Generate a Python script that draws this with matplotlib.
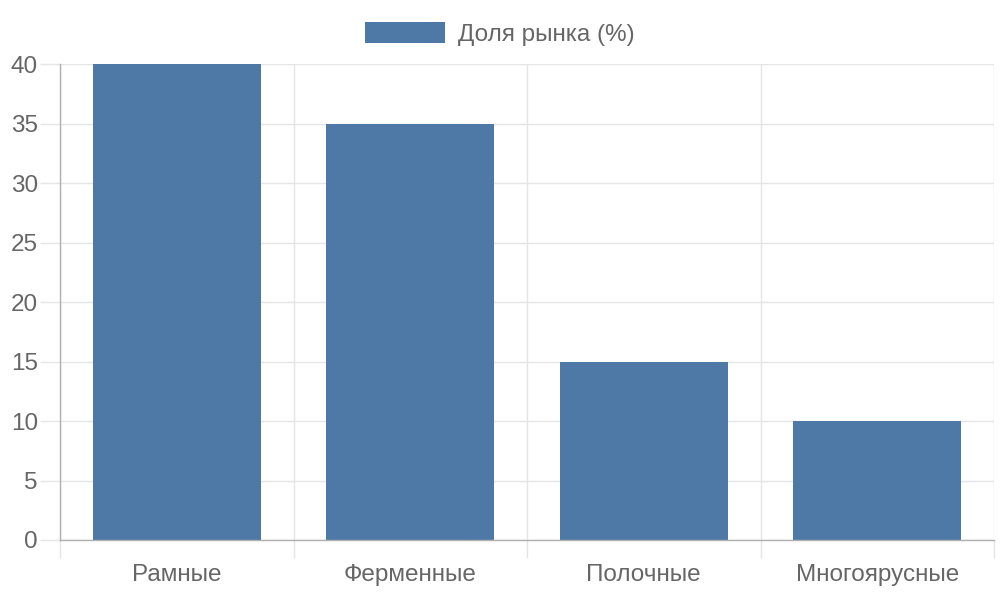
import numpy as np
import matplotlib.pyplot as plt
from matplotlib.ticker import FixedLocator

# --- Data ---------------------------------------------------------------------
categories = ["Рамные", "Ферменные", "Полочные", "Многоярусные"]
share = [40, 35, 15, 10]
series_label = "Доля рынка (%)"
y_ticks = [0, 5, 10, 15, 20, 25, 30, 35, 40]

BAR_COLOR = "#4e79a7"
TEXT_COLOR = "#666666"
GRID_COLOR = "#e5e5e5"
AXIS_COLOR = "#b0b0b0"
FS = 17.5

plt.rcParams["font.family"] = ["Liberation Sans", "DejaVu Sans"]

fig = plt.figure(figsize=(10, 6), dpi=100)
ax = fig.add_axes([0.06, 0.1, 0.934, 0.7933])

x = np.arange(len(categories))
bars = ax.bar(x, share, width=0.72, color=BAR_COLOR, label=series_label, zorder=2)

ax.set_xlim(-0.5, len(categories) - 0.5)
ax.set_ylim(0, 40)

# horizontal grid + ticks sticking out to the left
ax.set_yticks(y_ticks)
ax.yaxis.grid(True, color=GRID_COLOR, lw=1, zorder=0)
ax.tick_params(axis="y", length=14.4, width=1, color=GRID_COLOR,
               labelsize=FS, labelcolor=TEXT_COLOR, pad=1.5)

# category boundaries: gridlines + ticks below the axis
bounds = np.arange(len(categories) + 1) - 0.5
ax.xaxis.set_major_locator(FixedLocator(bounds))
ax.xaxis.set_major_formatter(plt.NullFormatter())
ax.xaxis.grid(True, which="major", color=GRID_COLOR, lw=1, zorder=0)
ax.tick_params(axis="x", which="major", length=13, width=1, color=GRID_COLOR)
ax.set_xticks(x, minor=True)
ax.set_xticklabels(categories, minor=True)
ax.tick_params(axis="x", which="minor", length=0, labelsize=FS,
               labelcolor=TEXT_COLOR, pad=17)

for side in ["top", "right"]:
    ax.spines[side].set_visible(False)
for side in ["left", "bottom"]:
    ax.spines[side].set_color(AXIS_COLOR)
    ax.spines[side].set_linewidth(1)

ax.legend(loc="lower center", bbox_to_anchor=(0.4706, 1.0), frameon=False,
          fontsize=FS, labelcolor=TEXT_COLOR, handlelength=3.29,
          handleheight=0.95, handletextpad=0.55, borderaxespad=0.35)

fig.savefig("out.png", dpi=100)
